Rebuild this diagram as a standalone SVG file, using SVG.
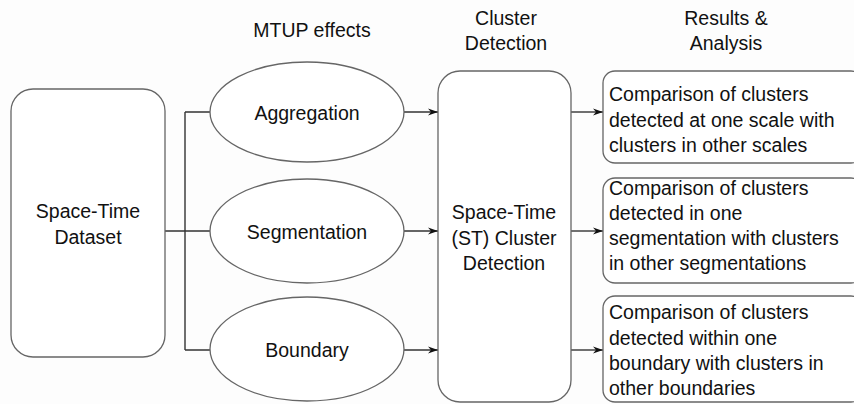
<svg xmlns="http://www.w3.org/2000/svg" width="854" height="404" viewBox="0 0 854 404">
<defs>
<style>
.box{fill:#fff;stroke:#666;stroke-width:1.3}
.t{font-family:"Liberation Sans",Arial,sans-serif;font-size:19.5px;fill:#111}
.c{text-anchor:middle}
.ln{fill:none;stroke:#333;stroke-width:1.4}
</style>
<marker id="ah" viewBox="0 0 10 10" refX="10" refY="5" markerWidth="11" markerHeight="10" markerUnits="userSpaceOnUse" orient="auto">
<path d="M0,1.5 L10,5 L0,8.5 L3,5 Z" fill="#111"/>
</marker>
</defs>
<rect width="854" height="404" fill="#fdfdfd"/>
<g id="headers">
<text class="t c" x="312" y="37">MTUP effects</text>
<text class="t c" x="506" y="25">Cluster</text>
<text class="t c" x="506" y="50">Detection</text>
<text class="t c" x="726" y="25">Results &amp;</text>
<text class="t c" x="726" y="50">Analysis</text>
</g>
<g id="connectors">
<path class="ln" d="M165,231 H210 M185,112 V350 M185,112 H210 M185,350 H210"/>
<path class="ln" d="M404,112 H438" marker-end="url(#ah)"/>
<path class="ln" d="M404,231 H438" marker-end="url(#ah)"/>
<path class="ln" d="M404,350 H438" marker-end="url(#ah)"/>
<path class="ln" d="M571,112 H603" marker-end="url(#ah)"/>
<path class="ln" d="M571,231 H603" marker-end="url(#ah)"/>
<path class="ln" d="M571,350 H603" marker-end="url(#ah)"/>
</g>
<g id="dataset">
<rect class="box" x="11" y="89" width="154" height="268" rx="22"/>
<text class="t c" x="88" y="218">Space-Time</text>
<text class="t c" x="88" y="244">Dataset</text>
</g>
<g id="aggregation">
<ellipse class="box" cx="307" cy="112" rx="97" ry="50"/>
<text class="t c" x="307" y="120">Aggregation</text>
</g>
<g id="segmentation">
<ellipse class="box" cx="307" cy="231" rx="97" ry="52"/>
<text class="t c" x="307" y="239">Segmentation</text>
</g>
<g id="boundary">
<ellipse class="box" cx="307" cy="349" rx="97" ry="52"/>
<text class="t c" x="307" y="357">Boundary</text>
</g>
<g id="cluster">
<rect class="box" x="438" y="71" width="133" height="331" rx="22"/>
<text class="t c" x="504" y="219">Space-Time</text>
<text class="t c" x="504" y="245">(ST) Cluster</text>
<text class="t c" x="504" y="270">Detection</text>
</g>
<g id="result1">
<rect class="box" x="603" y="71" width="260" height="92" rx="12"/>
<text class="t" x="609" y="101">Comparison of clusters</text>
<text class="t" x="609" y="127">detected at one scale with</text>
<text class="t" x="609" y="152">clusters in other scales</text>
</g>
<g id="result2">
<rect class="box" x="603" y="178" width="260" height="105" rx="12"/>
<text class="t" x="609" y="195">Comparison of clusters</text>
<text class="t" x="609" y="220">detected in one</text>
<text class="t" x="609" y="245">segmentation with clusters</text>
<text class="t" x="609" y="270">in other segmentations</text>
</g>
<g id="result3">
<rect class="box" x="603" y="296" width="260" height="106" rx="12"/>
<text class="t" x="609" y="319">Comparison of clusters</text>
<text class="t" x="609" y="345">detected within one</text>
<text class="t" x="609" y="370">boundary with clusters in</text>
<text class="t" x="609" y="395">other boundaries</text>
</g>
</svg>
